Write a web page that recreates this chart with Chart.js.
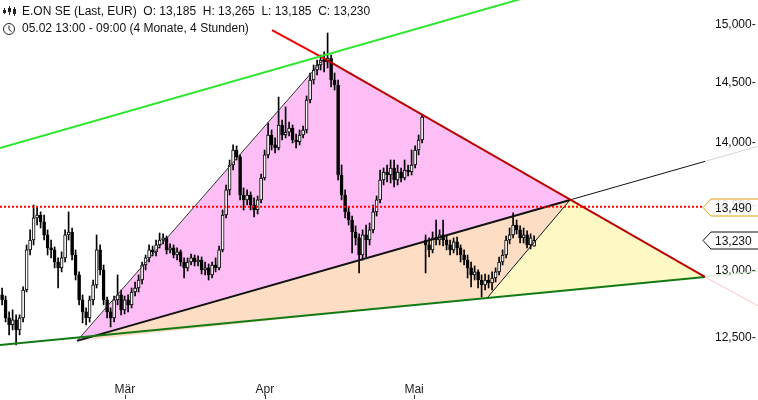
<!DOCTYPE html>
<html>
<head>
<meta charset="utf-8">
<script src="https://cdn.jsdelivr.net/npm/chart.js@4.4.1/dist/chart.umd.min.js"></script>
<style>
  html, body { margin: 0; padding: 0; background: #fff; }
  #wrap { position: relative; width: 758px; height: 400px; }
</style>
</head>
<body>
<div id="wrap"><canvas id="chart" width="758" height="400"></canvas></div>
<script>
        // Candles (4h bars)
        const opens = [12.816,12.779,12.646,12.595,12.631,12.558,12.646,12.853,13.156,13.232,
            13.403,13.426,13.372,13.271,13.171,13.156,13.064,13.019,13.095,13.271,
            13.294,13.117,12.966,12.779,12.690,12.646,12.779,12.891,13.156,13.004,
            12.779,12.690,12.646,12.779,12.816,12.705,12.779,12.742,12.838,12.868,
            12.928,13.041,13.095,13.156,13.141,13.194,13.232,13.248,13.156,13.171,
            13.117,13.141,13.064,13.019,13.064,13.095,13.064,13.079,13.004,13.019,
            12.966,13.041,13.019,13.156,13.426,13.623,13.822,13.943,13.887,13.583,
            13.544,13.583,13.504,13.465,13.544,13.718,13.903,14.065,13.984,13.959,
            14.147,14.065,14.089,14.122,14.024,14.008,14.065,14.106,14.354,14.522,
            14.607,14.649,14.692,14.675,14.709,14.522,14.480,13.742,13.583,13.450,
            13.387,13.294,13.248,13.117,13.271,13.232,13.310,13.450,13.544,13.702,
            13.766,13.742,13.798,13.702,13.766,13.718,13.782,13.766,13.822,13.943,
            14.024,13.232,13.194,13.156,13.248,13.232,13.271,13.232,13.194,13.156,
            13.217,13.171,13.117,13.079,13.019,12.966,12.989,12.928,12.891,12.928,
            12.906,12.943,12.989,13.064,13.117,13.232,13.271,13.348,13.310,13.248,
            13.271,13.194,13.185];
        const highs = [12.868,12.808,12.690,12.705,12.668,12.668,12.876,13.194,13.310,13.504,
            13.481,13.450,13.426,13.310,13.232,13.179,13.095,13.141,13.310,13.450,
            13.325,13.156,12.989,12.816,12.720,12.808,12.928,13.271,13.194,13.041,
            12.801,12.720,12.808,12.966,12.853,12.808,12.816,12.868,12.913,12.966,
            13.064,13.117,13.194,13.186,13.232,13.286,13.279,13.263,13.202,13.194,
            13.171,13.156,13.095,13.095,13.125,13.117,13.110,13.102,13.064,13.049,
            13.064,13.095,13.186,13.465,13.662,13.862,13.984,13.976,13.903,13.639,
            13.623,13.607,13.560,13.575,13.750,13.943,14.164,14.106,14.041,14.379,
            14.188,14.296,14.172,14.147,14.073,14.106,14.139,14.388,14.581,14.649,
            14.692,14.735,14.761,14.924,14.735,14.581,14.522,13.822,13.623,13.489,
            13.418,13.341,13.279,13.310,13.348,13.364,13.504,13.575,13.782,13.798,
            13.822,13.862,13.862,13.822,13.798,13.862,13.822,13.943,13.976,14.065,
            14.230,13.271,13.248,13.294,13.387,13.310,13.387,13.263,13.232,13.248,
            13.255,13.194,13.156,13.117,13.064,13.034,13.004,12.966,12.973,12.966,
            12.989,13.019,13.102,13.156,13.263,13.325,13.442,13.387,13.341,13.325,
            13.302,13.279,13.265];
        const lows = [12.742,12.616,12.522,12.558,12.449,12.522,12.616,12.838,13.117,13.194,
            13.348,13.325,13.232,13.117,13.095,13.019,12.868,12.989,13.064,13.232,
            13.079,12.928,12.742,12.609,12.595,12.616,12.742,12.868,12.966,12.742,
            12.646,12.580,12.616,12.742,12.668,12.675,12.690,12.720,12.808,12.838,
            12.898,13.004,13.064,13.110,13.110,13.171,13.202,13.125,13.133,13.095,
            13.079,13.034,12.943,12.996,13.041,13.034,13.034,12.973,12.966,12.928,
            12.943,12.989,13.004,13.141,13.403,13.583,13.782,13.862,13.544,13.465,
            13.504,13.465,13.411,13.434,13.520,13.702,13.878,13.943,13.919,13.943,
            14.024,14.041,14.057,14.000,13.959,13.984,14.041,14.081,14.329,14.488,
            14.564,14.607,14.590,14.624,14.463,14.438,13.702,13.544,13.403,13.348,
            13.133,13.194,12.981,13.079,13.102,13.194,13.286,13.418,13.520,13.662,
            13.686,13.678,13.646,13.662,13.686,13.702,13.734,13.742,13.798,13.903,
            14.000,12.981,13.102,13.133,13.194,13.194,13.186,13.156,13.117,13.133,
            13.117,13.064,13.041,12.943,12.876,12.928,12.868,12.801,12.853,12.868,
            12.853,12.913,12.966,13.041,13.095,13.202,13.248,13.279,13.209,13.209,
            13.171,13.163,13.185];
        const closes = [12.779,12.646,12.595,12.631,12.558,12.646,12.853,13.156,13.232,13.403,
            13.426,13.372,13.271,13.171,13.156,13.064,13.019,13.095,13.271,13.294,
            13.117,12.966,12.779,12.690,12.646,12.779,12.891,13.156,13.004,12.779,
            12.690,12.646,12.779,12.816,12.705,12.779,12.742,12.838,12.868,12.928,
            13.041,13.095,13.156,13.141,13.194,13.232,13.248,13.156,13.171,13.117,
            13.141,13.064,13.019,13.064,13.095,13.064,13.079,13.004,13.019,12.966,
            13.041,13.019,13.156,13.426,13.623,13.822,13.943,13.887,13.583,13.544,
            13.583,13.504,13.465,13.544,13.718,13.903,14.065,13.984,13.959,14.147,
            14.065,14.089,14.122,14.024,14.008,14.065,14.106,14.354,14.522,14.607,
            14.649,14.692,14.675,14.709,14.522,14.480,13.742,13.583,13.450,13.387,
            13.294,13.248,13.117,13.271,13.232,13.310,13.450,13.544,13.702,13.766,
            13.742,13.798,13.702,13.766,13.718,13.782,13.766,13.822,13.943,14.024,
            14.213,13.194,13.156,13.248,13.232,13.271,13.232,13.194,13.156,13.217,
            13.171,13.117,13.079,13.019,12.966,12.989,12.928,12.891,12.928,12.906,
            12.943,12.989,13.064,13.117,13.232,13.271,13.348,13.310,13.248,13.271,
            13.194,13.248,13.230];

        // Axis ticks
        const priceTicks = [12.5, 13.0, 13.5, 14.0, 14.5, 15.0];
        const monthPositions = [35.1, 75.1, 117.7];
        const monthLabels = ['Mär', 'Apr', 'Mai'];

        // Drawn objects, as [bar index, price]
        const pinkTriangle = [[21.4, 12.478], [91.97, 14.705], [162.26, 13.544]];
        const peachTriangle = [[21.4, 12.478], [162.26, 13.544], [138.83, 12.801]];
        const yellowTriangle = [[138.83, 12.801], [162.26, 13.544], [200.83, 12.951]];
        const upperChannel = [[-0.6, 13.959], [150.83, 15.246]];
        const resistanceTop = [[77.11, 14.950], [91.97, 14.705]];
        const resistance = [[91.97, 14.705], [200.83, 12.951]];
        const resistanceExt = [[200.83, 12.951], [215.97, 12.735]];
        const supportLine = [[21.4, 12.478], [162.26, 13.544]];
        const supportExt = [[162.26, 13.544], [200.83, 13.851]];
        const supportFaint = [[200.83, 13.851], [215.97, 13.973]];
        const baseLine = [[-0.6, 12.449], [200.83, 12.951]];
        const baseFaint = [[200.83, 12.951], [215.97, 12.996]];
        const levelLine = [[-0.6, 13.490], [200.3, 13.490]];

        const header1 = 'E.ON SE (Last, EUR)  O: 13,185  H: 13,265  L: 13,185  C: 13,230';
        const header2 = '05.02 13:00 - 09:00 (4 Monate, 4 Stunden)';
        const levelValue = 13.490;
        const lastValue = 13.230;

        const fmt = v => v.toFixed(3).replace('.', ',');
        const pts = arr => arr.map(p => ({ x: p[0], y: p[1] }));

        function lineSet(arr, color, width, order, extra) {
            return Object.assign({
                type: 'line',
                data: pts(arr),
                borderColor: color,
                borderWidth: width,
                pointRadius: 0,
                fill: false,
                tension: 0,
                order: order
            }, extra || {});
        }

        function areaSet(arr, color) {
            return {
                type: 'line',
                data: pts(arr.concat([arr[0]])),
                borderWidth: 0,
                borderColor: 'rgba(0,0,0,0)',
                backgroundColor: color,
                pointRadius: 0,
                fill: 'shape',
                tension: 0,
                order: 20
            };
        }

        const idx = closes.map((c, i) => i);

        const overlayPlugin = {
            id: 'overlay',
            afterDraw(chart) {
                const ctx = chart.ctx;
                const y = chart.scales.y;
                const x = chart.scales.x;
                ctx.save();

                // header icons
                ctx.strokeStyle = '#222';
                ctx.fillStyle = '#222';
                ctx.lineWidth = 1;
                [[4.5, 8, 14, 10, 13], [9.5, 6, 15, 8, 12], [14.5, 7, 16, 9, 14]].forEach(c => {
                    ctx.beginPath();
                    ctx.moveTo(c[0], c[1]); ctx.lineTo(c[0], c[2]);
                    ctx.stroke();
                    ctx.fillRect(c[0] - 1.5, c[3], 3, c[4] - c[3]);
                });
                ctx.beginPath();
                ctx.arc(9, 29, 5.5, 0, Math.PI * 2);
                ctx.stroke();
                ctx.beginPath();
                ctx.moveTo(9, 25.5); ctx.lineTo(9, 29.5); ctx.lineTo(11.5, 31.5);
                ctx.stroke();

                ctx.font = "12px 'Liberation Sans', Arial, sans-serif";
                ctx.fillStyle = '#111';
                ctx.textBaseline = 'middle';
                ctx.textAlign = 'left';
                ctx.fillText(header1, 22, 12);
                ctx.fillText(header2, 22, 29);

                // price markers on the right axis
                const marker = (val, stroke) => {
                    const py = Math.round(y.getPixelForValue(val)) + 0.5;
                    ctx.beginPath();
                    ctx.moveTo(703, py);
                    ctx.lineTo(711, py - 8.5);
                    ctx.lineTo(760, py - 8.5);
                    ctx.lineTo(760, py + 8.5);
                    ctx.lineTo(711, py + 8.5);
                    ctx.closePath();
                    ctx.fillStyle = 'rgba(255,255,255,0.85)';
                    ctx.fill();
                    ctx.strokeStyle = stroke;
                    ctx.lineWidth = 1;
                    ctx.stroke();
                    ctx.fillStyle = '#111';
                    ctx.fillText(fmt(val), 715, py + 1);
                };
                marker(levelValue, '#e0a010');
                marker(lastValue, '#111');

                // small month tick marks under the labels
                ctx.strokeStyle = '#333';
                monthPositions.forEach(m => {
                    const px = Math.round(x.getPixelForValue(m)) + 0.5;
                    ctx.beginPath();
                    ctx.moveTo(px, 395);
                    ctx.lineTo(px, 399);
                    ctx.stroke();
                });
                ctx.restore();
            }
        };

        Chart.defaults.font.family = "'Liberation Sans', Arial, sans-serif";
        Chart.defaults.font.size = 12;
        Chart.defaults.color = '#111';

        new Chart(document.getElementById('chart'), {
            type: 'bar',
            data: {
                datasets: [
                    areaSet(pinkTriangle, 'rgb(252,190,245)'),
                    areaSet(peachTriangle, 'rgb(253,222,196)'),
                    areaSet(yellowTriangle, 'rgb(253,248,196)'),
                    {
                        label: 'wicks',
                        data: idx.map(i => ({ x: i, y: [lows[i], highs[i]] })),
                        backgroundColor: '#000',
                        borderWidth: 0,
                        barThickness: 1,
                        grouped: false,
                        order: 11
                    },
                    {
                        label: 'bodies',
                        data: idx.map(i => ({ x: i, y: [opens[i], closes[i]] })),
                        backgroundColor: idx.map(i => closes[i] >= opens[i] ? '#fff' : '#000'),
                        borderColor: '#000',
                        borderWidth: 1,
                        borderSkipped: false,
                        barThickness: 3,
                        minBarLength: 1,
                        grouped: false,
                        order: 10
                    },
                    lineSet(pinkTriangle.slice(0, 2), '#333', 1, 6),
                    lineSet([yellowTriangle[0], yellowTriangle[1]], '#111', 1, 6),
                    lineSet(supportLine, '#111', 2, 5),
                    lineSet(supportExt, '#111', 1, 5),
                    lineSet(supportFaint, '#d4d4d4', 1, 5, { clip: false }),
                    lineSet(baseLine, '#137a13', 2, 4),
                    lineSet(baseFaint, '#cfe8cf', 1, 4, { clip: false }),
                    lineSet(resistanceTop, '#f00000', 2, 3),
                    lineSet(resistance, '#b80000', 2, 3),
                    lineSet(resistanceExt, '#f6c6c6', 1, 3, { clip: false }),
                    lineSet(upperChannel, '#2ee62e', 2, 2),
                    lineSet(levelLine, '#ff0000', 2, 1, { borderDash: [2, 2] })
                ]
            },
            options: {
                responsive: false,
                animation: false,
                events: [],
                layout: { padding: 0 },
                plugins: { legend: { display: false }, tooltip: { enabled: false } },
                scales: {
                    x: {
                        type: 'linear',
                        min: -0.6,
                        max: 200.83,
                        offset: false,
                        grid: { display: false, drawTicks: false, offset: false },
                        border: { display: false },
                        afterFit: s => { s.height = 22; s.paddingLeft = 0; s.paddingRight = 0; },
                        afterBuildTicks: s => { s.ticks = monthPositions.map(v => ({ value: v })); },
                        ticks: {
                            autoSkip: false,
                            maxRotation: 0,
                            padding: 4,
                            color: '#222',
                            callback: (v, i) => monthLabels[i]
                        }
                    },
                    y: {
                        type: 'logarithmic',
                        position: 'right',
                        min: 12.2118,
                        max: 15.2135,
                        beginAtZero: false,
                        grid: { display: false, drawTicks: false },
                        border: { display: false },
                        afterFit: s => { s.width = 53; s.paddingTop = 0; s.paddingBottom = 0; },
                        afterBuildTicks: s => { s.ticks = priceTicks.map(v => ({ value: v })); },
                        ticks: {
                            autoSkip: false,
                            padding: 10,
                            color: '#111',
                            callback: v => fmt(v) + '-'
                        }
                    }
                }
            },
            plugins: [overlayPlugin]
        });
</script>
</body>
</html>
